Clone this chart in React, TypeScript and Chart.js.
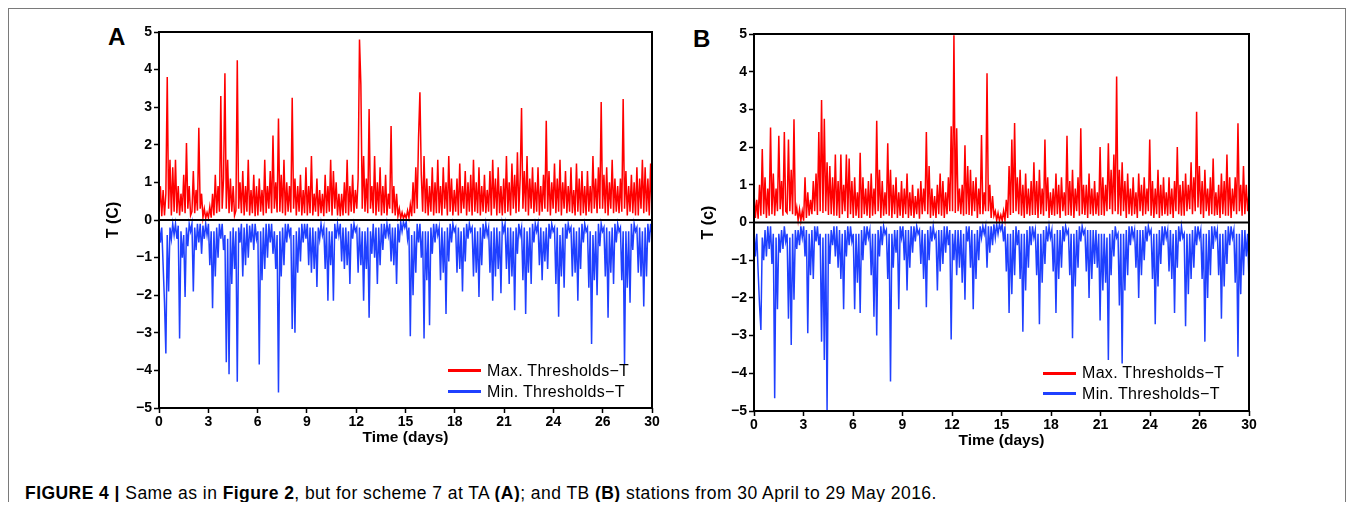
import React, { useEffect, useRef } from 'react';
import { Chart, registerables } from 'chart.js';

Chart.register(...registerables);

const FONT = "'Liberation Sans', Arial, sans-serif";
const DAYS = 30;
const X_TICK_VALUES = [0, 3, 6, 9, 12, 15, 18, 21, 24, 27, 30];
const X_TICK_LABELS = ['0', '3', '6', '9', '12', '15', '18', '21', '24', '26', '30'];
const Y_MIN = -5;
const Y_MAX = 5;
const SERIES_NAMES = ['Max. Thresholds\u2212T', 'Min. Thresholds\u2212T'];
const SERIES_COLORS = ['#ff0000', '#1f40ff'];

// Panel A (TA station), 12 samples per day
const MAX_A = [
  0.18, 0.9, 0.1, 0.8, 0.12, 0.7, 3.8, 0.3, 1.6, 0.12, 1.4, 0.22,
  1.6, 0.18, 0.9, 0.12, 0.7, 0.22, 1.2, 0.18, 2.05, 0.3, 0.9, 0.12,
  0.22, 1.3, 0.18, 0.8, 0.25, 2.45, 0.3, 0.7, 0.06, 0.3, 0.05, 0.2,
  0.06, 0.35, 0.06, 0.7, 0.12, 1.2, 0.18, 0.9, 0.22, 3.3, 0.3, 1.1,
  3.9, 0.3, 1.6, 0.18, 1.1, 0.22, 0.9, 0.12, 0.25, 4.25, 0.3, 1.0,
  0.18, 1.3, 0.12, 0.9, 0.22, 1.6, 0.12, 0.8, 0.18, 1.2, 0.1, 0.9,
  0.12, 1.1, 0.22, 0.8, 0.12, 1.6, 0.18, 0.9, 0.3, 1.3, 0.18, 2.25,
  0.3, 1.0, 0.2, 2.7, 0.22, 1.2, 0.18, 1.6, 0.12, 1.0, 0.22, 0.9,
  0.2, 3.25, 0.3, 1.1, 0.12, 0.9, 0.22, 1.2, 0.12, 0.8, 0.18, 1.4,
  0.12, 0.9, 0.18, 1.7, 0.12, 0.7, 0.22, 1.1, 0.1, 0.8, 0.18, 0.7,
  0.1, 1.2, 0.18, 0.9, 0.22, 1.6, 0.12, 1.3, 0.3, 1.0, 0.12, 0.7,
  0.1, 0.7, 0.12, 1.0, 0.18, 1.6, 0.12, 0.9, 0.22, 1.2, 0.18, 0.8,
  0.3, 1.1, 4.8, 3.6, 0.3, 1.7, 0.22, 1.1, 0.18, 2.95, 0.3, 0.9,
  0.18, 1.7, 0.12, 1.0, 0.22, 1.4, 0.12, 0.9, 0.18, 1.2, 0.12, 0.7,
  0.3, 2.5, 0.18, 0.9, 0.12, 0.7, 0.1, 0.3, 0.05, 0.2, 0.04, 0.15,
  0.05, 0.25, 0.06, 0.4, 0.1, 1.0, 0.18, 1.4, 0.3, 2.2, 3.4, 1.2,
  0.22, 1.7, 0.18, 1.1, 0.12, 0.9, 0.22, 1.4, 0.12, 1.0, 0.18, 1.6,
  0.18, 0.9, 0.12, 1.4, 0.3, 1.0, 0.12, 1.7, 0.22, 1.1, 0.12, 0.8,
  0.22, 1.1, 0.12, 1.5, 0.18, 0.9, 0.3, 1.3, 0.12, 1.0, 0.22, 1.2,
  0.12, 1.6, 0.22, 1.0, 0.18, 1.4, 0.12, 0.9, 0.22, 1.2, 0.18, 0.8,
  0.22, 1.3, 0.12, 1.6, 0.3, 1.1, 0.12, 1.4, 0.18, 0.9, 0.12, 1.1,
  0.18, 1.7, 0.22, 1.0, 0.12, 1.5, 0.3, 1.2, 0.18, 1.8, 0.22, 1.1,
  2.98, 0.3, 1.3, 0.22, 1.7, 0.12, 1.1, 0.3, 1.4, 0.18, 1.0, 0.22,
  1.4, 0.12, 0.9, 0.22, 1.2, 0.3, 2.64, 0.22, 1.3, 0.12, 1.0, 0.3,
  1.5, 0.18, 1.1, 0.22, 1.6, 0.12, 1.0, 0.3, 1.3, 0.18, 0.9, 0.22,
  1.4, 0.18, 0.8, 0.12, 1.5, 0.22, 1.1, 0.12, 1.3, 0.18, 0.9, 0.12,
  1.3, 0.22, 0.9, 0.18, 1.7, 0.3, 1.1, 0.18, 1.4, 0.3, 3.14, 0.3,
  1.2, 0.18, 1.4, 0.12, 1.0, 0.3, 1.6, 0.18, 1.1, 0.22, 0.9, 0.18,
  1.1, 0.22, 3.22, 0.3, 1.3, 0.12, 0.9, 0.22, 1.2, 0.18, 1.0, 0.12,
  1.4, 0.12, 1.1, 0.3, 1.6, 0.18, 1.4, 0.22, 1.1, 0.12, 1.5, 0.18,
];

const MIN_A = [
  -0.1, -0.6, -0.2, -1.2, -2.2, -3.55, -0.4, -1.9, -0.2, -0.5, -0.1, -0.4,
  -0.1, -0.5, -0.15, -3.15, -0.3, -1.0, -0.4, -2.05, -0.2, -0.7, -0.1, -0.3,
  -0.1, -1.9, -0.2, -0.8, -0.1, -0.6, -0.1, -0.9, -0.15, -0.5, -0.1, -0.4,
  -0.1, -1.2, -0.3, -2.35, -0.3, -1.5, -0.2, -1.0, -0.1, -0.5, -0.1, -0.8,
  -0.4, -3.78, -0.5, -4.1, -0.3, -1.7, -0.2, -1.3, -0.3, -4.3, -0.2, -0.6,
  -0.1, -1.5, -0.2, -1.2, -0.1, -1.0, -0.15, -0.6, -0.1, -0.8, -0.1, -0.5,
  -0.3, -3.84, -0.3, -1.6, -0.2, -1.3, -0.1, -1.0, -0.1, -0.6, -0.1, -0.9,
  -0.3, -1.3, -0.4, -4.59, -0.3, -1.5, -0.2, -1.2, -0.1, -0.6, -0.1, -0.4,
  -0.2, -2.9, -0.4, -3.0, -0.3, -1.4, -0.2, -1.1, -0.1, -0.6, -0.1, -0.5,
  -0.1, -1.2, -0.2, -1.4, -0.2, -1.3, -0.3, -1.78, -0.2, -0.5, -0.1, -0.4,
  -0.2, -1.3, -0.2, -2.15, -0.3, -1.2, -0.3, -2.15, -0.1, -0.5, -0.1, -0.4,
  -0.1, -1.1, -0.2, -1.3, -0.2, -1.2, -0.3, -1.7, -0.1, -0.5, -0.1, -0.3,
  -0.2, -1.4, -0.2, -1.2, -0.3, -2.15, -0.3, -1.3, -0.2, -2.6, -0.3, -0.9,
  -0.1, -1.0, -0.2, -1.7, -0.2, -1.2, -0.1, -0.8, -0.1, -0.5, -0.1, -0.4,
  -0.1, -1.1, -0.2, -1.2, -0.2, -1.7, -0.1, -0.6, -0.05, -0.3, -0.05, -0.2,
  -0.05, -0.5, -0.2, -3.09, -0.4, -2.0, -0.3, -1.4, -0.1, -0.6, -0.1, -1.0,
  -0.3, -3.15, -0.3, -1.6, -0.3, -2.8, -0.2, -0.9, -0.1, -0.6, -0.1, -0.4,
  -0.2, -1.6, -0.2, -1.4, -0.3, -2.5, -0.2, -1.1, -0.1, -0.6, -0.1, -0.3,
  -0.2, -1.4, -0.2, -1.3, -0.3, -1.9, -0.2, -1.1, -0.1, -0.5, -0.1, -0.3,
  -0.2, -1.5, -0.2, -1.4, -0.3, -2.05, -0.2, -1.2, -0.1, -0.5, -0.1, -0.4,
  -0.2, -1.4, -0.3, -2.15, -0.2, -1.5, -0.2, -1.3, -0.3, -1.95, -0.1, -0.3,
  -0.1, -1.3, -0.2, -1.7, -0.2, -1.5, -0.3, -2.4, -0.2, -0.9, -0.1, -0.4,
  -0.2, -1.6, -0.2, -2.5, -0.3, -1.4, -0.2, -1.7, -0.1, -0.6, -0.1, -0.3,
  -0.1, -1.2, -0.2, -1.6, -0.3, -1.1, -0.2, -1.3, -0.1, -0.5, -0.1, -0.3,
  -0.2, -1.7, -0.2, -2.57, -0.4, -1.5, -0.2, -1.8, -0.1, -0.5, -0.1, -0.3,
  -0.2, -1.5, -0.2, -1.4, -0.3, -2.15, -0.2, -1.3, -0.1, -0.6, -0.1, -0.3,
  -0.2, -1.8, -0.3, -3.3, -0.4, -1.6, -0.3, -2.0, -0.1, -0.7, -0.1, -0.3,
  -0.2, -1.5, -0.2, -2.6, -0.3, -1.4, -0.2, -1.7, -0.1, -0.6, -0.1, -0.3,
  -0.2, -1.6, -0.3, -3.83, -0.3, -1.8, -0.3, -2.2, -0.1, -0.8, -0.1, -0.3,
  -0.2, -1.4, -0.2, -1.5, -0.3, -2.3, -0.2, -1.5, -0.1, -0.6, -0.1, -0.4,
];

// Panel B (TB station), 12 samples per day
const MAX_B = [
  0.8, 0.12, 0.6, 0.1, 1.0, 0.18, 1.95, 0.22, 1.2, 0.12, 0.9, 0.18,
  2.52, 0.22, 1.3, 0.18, 0.9, 0.3, 2.3, 0.35, 1.1, 0.18, 2.4, 0.3,
  0.25, 2.2, 0.3, 1.4, 0.22, 2.74, 0.18, 0.4, 0.06, 0.35, 0.05, 0.3,
  0.05, 1.2, 0.12, 0.8, 0.18, 0.6, 0.22, 1.1, 0.3, 1.3, 0.2, 2.4,
  0.3, 3.25, 0.25, 2.75, 0.3, 1.6, 0.2, 1.5, 0.22, 1.2, 0.18, 1.8,
  0.18, 1.1, 0.12, 1.8, 0.22, 1.0, 0.3, 1.8, 0.12, 1.7, 0.22, 1.1,
  0.12, 1.2, 0.18, 0.8, 0.12, 1.85, 0.12, 1.2, 0.22, 0.9, 0.18, 1.1,
  0.12, 1.3, 0.18, 0.9, 0.22, 2.7, 0.3, 1.4, 0.12, 1.1, 0.18, 0.8,
  0.22, 2.1, 0.18, 1.4, 0.12, 1.0, 0.22, 1.2, 0.12, 0.8, 0.18, 1.1,
  0.12, 0.9, 0.22, 1.3, 0.12, 0.8, 0.18, 1.0, 0.12, 0.7, 0.22, 0.9,
  0.1, 1.1, 0.22, 0.9, 0.3, 2.4, 0.22, 1.5, 0.12, 0.9, 0.18, 0.7,
  0.12, 1.0, 0.22, 1.3, 0.18, 1.1, 0.12, 0.8, 0.22, 1.2, 0.3, 2.55,
  0.3, 4.97, 0.25, 2.5, 0.3, 0.9, 0.22, 1.0, 0.18, 2.05, 0.22, 1.5,
  0.2, 1.4, 0.18, 1.1, 0.3, 1.2, 0.12, 0.9, 0.22, 2.32, 0.22, 0.8,
  0.3, 3.96, 0.3, 1.0, 0.12, 0.7, 0.18, 0.3, 0.06, 0.25, 0.05, 0.2,
  0.05, 0.3, 0.06, 0.6, 0.12, 1.5, 0.2, 2.2, 0.25, 2.64, 0.3, 1.2,
  0.22, 1.4, 0.18, 1.0, 0.12, 1.3, 0.22, 0.9, 0.18, 1.1, 0.2, 1.6,
  0.2, 1.1, 0.12, 1.4, 0.22, 0.9, 0.18, 2.2, 0.3, 1.2, 0.12, 0.8,
  0.2, 0.9, 0.18, 1.3, 0.22, 1.0, 0.12, 1.2, 0.3, 0.8, 0.18, 2.3,
  0.2, 1.1, 0.18, 1.4, 0.12, 0.9, 0.3, 1.2, 0.18, 2.5, 0.22, 1.0,
  0.2, 1.0, 0.12, 1.3, 0.22, 0.9, 0.18, 1.1, 0.22, 0.8, 0.18, 2.0,
  0.2, 1.2, 0.18, 1.0, 0.3, 2.1, 0.35, 1.4, 0.22, 1.8, 0.3, 3.87,
  0.22, 1.4, 0.18, 1.6, 0.3, 1.1, 0.12, 1.3, 0.22, 0.9, 0.18, 1.2,
  0.22, 0.8, 0.12, 1.3, 0.3, 1.0, 0.18, 1.2, 0.22, 0.9, 0.3, 2.2,
  0.18, 1.1, 0.12, 0.9, 0.22, 1.4, 0.12, 1.0, 0.18, 1.2, 0.22, 0.8,
  0.18, 1.2, 0.22, 0.9, 0.12, 1.1, 0.3, 2.0, 0.22, 1.0, 0.18, 1.1,
  0.18, 1.3, 0.3, 1.0, 0.35, 1.6, 0.22, 1.2, 0.3, 2.94, 0.4, 1.5,
  0.22, 1.1, 0.12, 1.4, 0.3, 0.9, 0.18, 1.2, 0.22, 1.7, 0.18, 0.8,
  0.2, 1.0, 0.12, 1.3, 0.22, 1.1, 0.18, 1.8, 0.18, 1.2, 0.12, 0.9,
  0.3, 1.2, 0.22, 2.63, 0.3, 1.0, 0.18, 1.5, 0.22, 1.0, 0.3, 0.8,
];

const MIN_B = [
  -0.2, -0.9, -0.3, -1.3, -2.19, -2.85, -0.4, -1.0, -0.2, -0.9, -0.1, -0.7,
  -0.1, -1.1, -0.3, -4.66, -0.4, -2.3, -0.3, -0.8, -0.2, -0.7, -0.1, -0.5,
  -0.3, -2.55, -0.4, -3.25, -0.3, -2.05, -0.2, -0.7, -0.2, -0.6, -0.1, -0.4,
  -0.1, -0.9, -0.2, -2.94, -0.3, -1.4, -0.2, -1.5, -0.1, -0.5, -0.1, -0.6,
  -0.3, -3.16, -0.4, -3.65, -0.3, -5.0, -0.3, -1.1, -0.2, -0.6, -0.1, -0.9,
  -0.1, -1.2, -0.2, -1.5, -0.3, -2.3, -0.2, -0.9, -0.1, -0.6, -0.1, -0.5,
  -0.3, -2.3, -0.3, -1.6, -0.3, -2.4, -0.2, -1.0, -0.1, -0.6, -0.1, -0.4,
  -0.2, -1.4, -0.3, -2.5, -0.3, -3.0, -0.2, -0.9, -0.1, -0.6, -0.1, -0.3,
  -0.2, -1.5, -0.3, -4.22, -0.3, -1.2, -0.2, -0.8, -0.2, -2.3, -0.1, -0.4,
  -0.1, -1.0, -0.2, -1.8, -0.2, -1.2, -0.1, -0.8, -0.1, -0.5, -0.1, -0.3,
  -0.2, -1.1, -0.2, -1.5, -0.3, -2.25, -0.2, -1.0, -0.1, -0.5, -0.1, -0.4,
  -0.3, -1.8, -0.2, -1.3, -0.2, -1.1, -0.1, -0.8, -0.1, -0.6, -0.2, -3.1,
  -0.3, -1.0, -0.2, -1.4, -0.2, -1.2, -0.2, -1.6, -0.3, -2.05, -0.1, -0.5,
  -0.1, -1.2, -0.2, -2.3, -0.3, -1.5, -0.2, -1.0, -0.1, -0.4, -0.1, -0.3,
  -0.1, -1.2, -0.1, -0.8, -0.1, -0.6, -0.05, -0.4, -0.05, -0.3, -0.05, -0.2,
  -0.05, -0.5, -0.1, -1.3, -0.3, -2.4, -0.3, -1.9, -0.2, -1.4, -0.1, -0.6,
  -0.2, -1.5, -0.3, -2.9, -0.3, -1.8, -0.2, -1.2, -0.1, -0.6, -0.1, -0.4,
  -0.2, -1.4, -0.3, -2.7, -0.3, -1.6, -0.2, -1.1, -0.1, -0.5, -0.1, -0.4,
  -0.2, -1.3, -0.3, -2.4, -0.2, -1.5, -0.2, -1.2, -0.1, -0.5, -0.1, -0.3,
  -0.2, -1.4, -0.3, -3.07, -0.3, -1.7, -0.2, -1.2, -0.1, -0.5, -0.1, -0.3,
  -0.2, -1.3, -0.2, -2.0, -0.2, -1.5, -0.2, -1.1, -0.2, -1.2, -0.3, -2.6,
  -0.3, -1.8, -0.3, -1.6, -0.4, -3.65, -0.3, -1.4, -0.2, -0.9, -0.1, -0.4,
  -0.3, -2.2, -0.3, -3.74, -0.3, -1.8, -0.2, -1.4, -0.1, -0.6, -0.1, -0.4,
  -0.2, -1.2, -0.2, -2.0, -0.2, -1.4, -0.2, -1.0, -0.1, -0.5, -0.1, -0.3,
  -0.2, -1.5, -0.3, -2.7, -0.3, -1.7, -0.2, -1.1, -0.1, -0.6, -0.1, -0.4,
  -0.2, -1.3, -0.2, -1.5, -0.3, -2.4, -0.2, -1.2, -0.1, -0.5, -0.1, -0.4,
  -0.3, -2.75, -0.3, -1.9, -0.3, -1.5, -0.2, -1.2, -0.1, -0.6, -0.1, -0.4,
  -0.2, -1.5, -0.3, -3.16, -0.3, -2.0, -0.2, -1.4, -0.1, -0.7, -0.1, -0.4,
  -0.2, -1.4, -0.3, -2.55, -0.3, -1.7, -0.2, -1.1, -0.1, -0.6, -0.1, -0.4,
  -0.2, -1.6, -0.3, -3.56, -0.3, -1.9, -0.2, -1.4, -0.2, -0.9, -0.3, -1.6,
];

function toPoints(values: number[]) {
  const n = values.length;
  return values.map((v, i) => ({ x: (i * DAYS) / (n - 1), y: v }));
}

const framePlugin = {
  id: 'frame',
  afterDatasetsDraw(chart: any) {
    const { ctx, chartArea: a, scales } = chart;
    const y0 = scales.y.getPixelForValue(0);
    ctx.save();
    ctx.strokeStyle = '#000';
    ctx.lineWidth = 2;
    ctx.beginPath();
    ctx.moveTo(a.left, y0);
    ctx.lineTo(a.right, y0);
    ctx.stroke();
    ctx.strokeRect(a.left, a.top, a.right - a.left, a.bottom - a.top);
    ctx.restore();
  },
};

type PanelProps = {
  yTitle: string;
  maxVals: number[];
  minVals: number[];
  left: number;
  top: number;
  width: number;
  height: number;
};

function Panel({ yTitle, maxVals, minVals, left, top, width, height }: PanelProps) {
  const ref = useRef<HTMLCanvasElement | null>(null);
  useEffect(() => {
    if (!ref.current) return;
    const tickFont = { family: FONT, size: 14, weight: 'bold' as const };
    const chart = new Chart(ref.current, {
      type: 'line',
      data: {
        datasets: [
          {
            label: SERIES_NAMES[0],
            data: toPoints(maxVals),
            borderColor: SERIES_COLORS[0],
            borderWidth: 1.5,
            pointRadius: 0,
            tension: 0,
          },
          {
            label: SERIES_NAMES[1],
            data: toPoints(minVals),
            borderColor: SERIES_COLORS[1],
            borderWidth: 1.5,
            pointRadius: 0,
            tension: 0,
          },
        ],
      },
      options: {
        animation: false,
        responsive: false,
        events: [],
        layout: { padding: { top: 22, right: 18, left: 0, bottom: 0 } },
        plugins: { legend: { display: false }, tooltip: { enabled: false } },
        scales: {
          x: {
            type: 'linear',
            min: 0,
            max: DAYS,
            afterBuildTicks: (s: any) => {
              s.ticks = X_TICK_VALUES.map((v) => ({ value: v }));
            },
            ticks: {
              autoSkip: false,
              maxRotation: 0,
              color: '#000',
              font: tickFont,
              padding: 1,
              callback: (v: any) => {
                const i = X_TICK_VALUES.indexOf(Number(v));
                return i >= 0 ? X_TICK_LABELS[i] : '';
              },
            },
            grid: {
              display: true,
              drawOnChartArea: false,
              drawTicks: true,
              tickLength: 5,
              tickColor: '#000',
              tickWidth: 1.5,
            },
            border: { display: false },
            title: {
              display: true,
              text: 'Time (days)',
              color: '#000',
              font: { family: FONT, size: 15.5, weight: 'bold' },
              padding: { top: 0, bottom: 3 },
            },
            afterFit: (s: any) => {
              s.height = 42;
              s.paddingLeft = 0;
              s.paddingRight = 0;
            },
          },
          y: {
            type: 'linear',
            min: Y_MIN,
            max: Y_MAX,
            ticks: {
              stepSize: 1,
              color: '#000',
              font: tickFont,
              padding: 2,
              callback: (v: any) => (Number(v) < 0 ? '\u2212' + Math.abs(Number(v)) : String(v)),
            },
            grid: {
              display: true,
              drawOnChartArea: false,
              drawTicks: true,
              tickLength: 5,
              tickColor: '#000',
              tickWidth: 1.5,
            },
            border: { display: false },
            title: {
              display: true,
              text: yTitle,
              color: '#000',
              font: { family: FONT, size: 16, weight: 'bold' },
              padding: { top: 14, bottom: 0 },
            },
            afterFit: (s: any) => {
              s.width = 69;
              s.paddingTop = 0;
              s.paddingBottom = 0;
            },
          },
        },
      },
      plugins: [framePlugin],
    } as any);
    return () => chart.destroy();
  }, [yTitle, maxVals, minVals]);

  return (
    <canvas
      ref={ref}
      width={width}
      height={height}
      style={{ position: 'absolute', left, top, width, height }}
    />
  );
}

function Legend({ x, y1, y2 }: { x: number; y1: number; y2: number }) {
  const rows = [
    { y: y1, name: SERIES_NAMES[0], color: SERIES_COLORS[0] },
    { y: y2, name: SERIES_NAMES[1], color: SERIES_COLORS[1] },
  ];
  return (
    <>
      {rows.map((r) => (
        <React.Fragment key={r.name}>
          <div
            style={{
              position: 'absolute',
              left: x,
              top: r.y - 1.5,
              width: 33,
              height: 3,
              background: r.color,
            }}
          />
          <div
            style={{
              position: 'absolute',
              left: x + 39,
              top: r.y - 10,
              height: 20,
              lineHeight: '20px',
              fontFamily: FONT,
              fontSize: 16,
              color: '#000',
              whiteSpace: 'nowrap',
              letterSpacing: '0.3px',
            }}
          >
            {r.name}
          </div>
        </React.Fragment>
      ))}
    </>
  );
}

export default function App() {
  // container sits at page (8, 8); coordinates below are page minus 8
  const letterStyle: React.CSSProperties = {
    position: 'absolute',
    fontFamily: FONT,
    fontWeight: 'bold',
    fontSize: 24,
    lineHeight: '24px',
    color: '#000',
  };
  return (
    <div
      style={{
        position: 'relative',
        width: 1338,
        height: 494,
        overflow: 'hidden',
        background: '#fff',
      }}
    >
      <div
        style={{
          position: 'absolute',
          left: 0,
          top: 0,
          width: 1338,
          height: 520,
          boxSizing: 'border-box',
          borderTop: '1.5px solid #7a7a7a',
          borderLeft: '1.5px solid #7a7a7a',
          borderRight: '1.5px solid #7a7a7a',
        }}
      />
      <div style={{ ...letterStyle, left: 100, top: 16.5 }}>A</div>
      <div style={{ ...letterStyle, left: 685, top: 18.5 }}>B</div>
      <Panel yTitle="T (C)" maxVals={MAX_A} minVals={MIN_A} left={82} top={2} width={580} height={440} />
      <Panel yTitle="T (c)" maxVals={MAX_B} minVals={MIN_B} left={677} top={4} width={582} height={441} />
      <Legend x={440} y1={362.5} y2={383.5} />
      <Legend x={1035} y1={365} y2={385.5} />
      <div
        style={{
          position: 'absolute',
          left: 17,
          top: 475,
          height: 20,
          lineHeight: '20px',
          fontFamily: FONT,
          fontSize: 17.5,
          letterSpacing: '0.45px',
          color: '#000',
          whiteSpace: 'nowrap',
        }}
      >
        <b>FIGURE 4 | </b>Same as in <b>Figure 2</b>, but for scheme 7 at TA <b>(A)</b>; and TB <b>(B)</b> stations from
        30 April to 29 May 2016.
      </div>
    </div>
  );
}
